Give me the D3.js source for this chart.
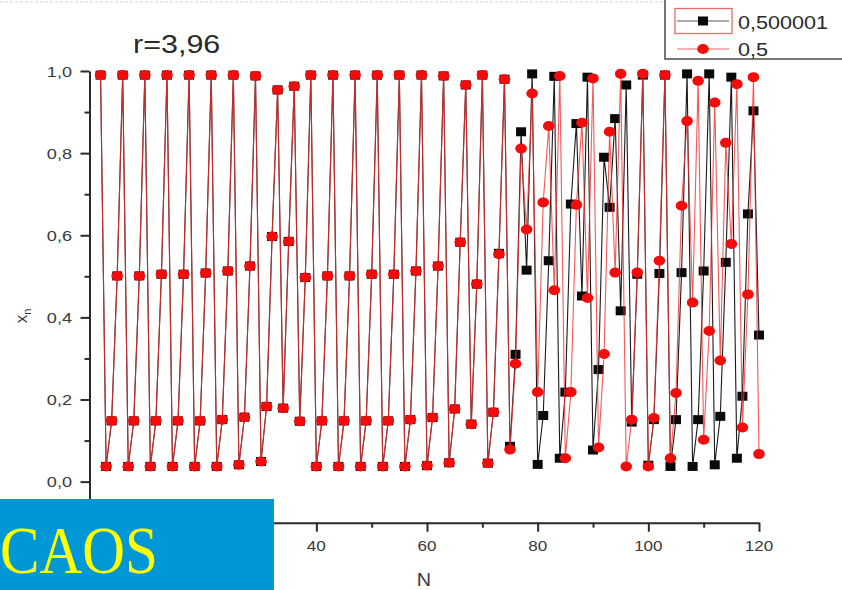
<!DOCTYPE html>
<html>
<head>
<meta charset="utf-8">
<script src="https://cdn.jsdelivr.net/npm/d3@7"></script>
<style>
  body { margin: 0; background: #fff; }
  svg { display: block; }
</style>
</head>
<body>
<svg id="chart" width="842" height="590"></svg>
<script>
// Logistic map iterates x_n for r = 3,96, two starting values
const title = "r=3,96";
const seriesNames = ["0,500001", "0,5"];
const xTickValues = [0, 20, 40, 60, 80, 100, 120];
const xMinorTicks = [10, 30, 50, 70, 90, 110];
const xLabelledTicks = [40, 60, 80, 100, 120];   // 0 and 20 sit under the caption block
const yTickValues = [0, 0.2, 0.4, 0.6, 0.8, 1.0];
const yMinorTicks = [0.1, 0.3, 0.5, 0.7, 0.9];
const yTickLabels = ["0,0", "0,2", "0,4", "0,6", "0,8", "1,0"];

// N = 1 .. 120
const steps = d3.range(1, 121);

// x0 = 0,5
const xn_0_5 = [
  0.990, 0.037, 0.148, 0.501, 0.990, 0.037, 0.148, 0.501, 0.990, 0.037,
  0.148, 0.505, 0.990, 0.037, 0.148, 0.505, 0.990, 0.037, 0.148, 0.508,
  0.990, 0.037, 0.151, 0.513, 0.990, 0.041, 0.157, 0.525, 0.988, 0.049,
  0.183, 0.597, 0.954, 0.179, 0.585, 0.963, 0.147, 0.497, 0.990, 0.037,
  0.148, 0.501, 0.990, 0.037, 0.148, 0.501, 0.990, 0.037, 0.148, 0.505,
  0.990, 0.037, 0.148, 0.505, 0.990, 0.037, 0.151, 0.513, 0.990, 0.039,
  0.156, 0.525, 0.988, 0.046, 0.177, 0.583, 0.966, 0.140, 0.481, 0.990,
  0.045, 0.169, 0.554, 0.980, 0.078, 0.287, 0.811, 0.614, 0.945, 0.218,
  0.680, 0.866, 0.466, 0.988, 0.057, 0.218, 0.674, 0.874, 0.447, 0.982,
  0.083, 0.311, 0.852, 0.509, 0.993, 0.037, 0.151, 0.509, 0.993, 0.037,
  0.155, 0.538, 0.990, 0.057, 0.216, 0.672, 0.878, 0.436, 0.976, 0.102,
  0.367, 0.923, 0.295, 0.825, 0.579, 0.968, 0.132, 0.456, 0.985, 0.067
];

// x0 = 0,500001
const xn_0_500001 = [
  0.990, 0.037, 0.148, 0.501, 0.990, 0.037, 0.148, 0.501, 0.990, 0.037,
  0.148, 0.505, 0.990, 0.037, 0.148, 0.505, 0.990, 0.037, 0.148, 0.508,
  0.990, 0.037, 0.151, 0.513, 0.990, 0.041, 0.157, 0.525, 0.988, 0.049,
  0.183, 0.597, 0.954, 0.179, 0.585, 0.963, 0.147, 0.497, 0.990, 0.037,
  0.148, 0.501, 0.990, 0.037, 0.148, 0.501, 0.990, 0.037, 0.148, 0.505,
  0.990, 0.037, 0.148, 0.505, 0.990, 0.037, 0.151, 0.513, 0.990, 0.039,
  0.156, 0.525, 0.988, 0.046, 0.177, 0.583, 0.966, 0.140, 0.481, 0.990,
  0.045, 0.169, 0.556, 0.980, 0.086, 0.310, 0.852, 0.515, 0.993, 0.042,
  0.161, 0.538, 0.987, 0.057, 0.218, 0.676, 0.872, 0.452, 0.985, 0.077,
  0.273, 0.790, 0.668, 0.884, 0.416, 0.966, 0.145, 0.505, 0.990, 0.040,
  0.151, 0.507, 0.990, 0.037, 0.151, 0.509, 0.993, 0.037, 0.151, 0.513,
  0.993, 0.041, 0.159, 0.534, 0.985, 0.057, 0.208, 0.652, 0.903, 0.357
];

const svg = d3.select("#chart");
const FONT = "'Liberation Sans', Arial, sans-serif";
const STRETCH = 1.17;   // text in this figure is drawn slightly wide

const x = d3.scaleLinear().domain([-1, 120]).range([89.5, 759]);
const y = d3.scaleLinear().domain([-0.1, 1.0]).range([522.7, 71]);

// faint rule along the top edge
svg.append("line")
  .attr("x1", 0).attr("x2", 842).attr("y1", 2).attr("y2", 2)
  .attr("stroke", "#e2e2e2").attr("stroke-width", 1.5)
  .attr("stroke-dasharray", "3,2");

function wideText(g, tx, ty, txt, size, anchor, sx, color) {
  return g.append("text")
    .attr("transform", `translate(${tx},${ty}) scale(${sx},1)`)
    .attr("text-anchor", anchor)
    .attr("font-family", FONT)
    .attr("font-size", size)
    .attr("fill", color || "#3a3a3a")
    .text(txt);
}

// ---- axes ----
const axisColor = "#2b2b2b";
const gy = svg.append("g").attr("transform", `translate(${x.range()[0]},0)`);
gy.call(d3.axisLeft(y).tickValues(yTickValues).tickSize(9).tickSizeOuter(0).tickFormat(""));
gy.append("g").call(d3.axisLeft(y).tickValues(yMinorTicks).tickSize(5).tickSizeOuter(0).tickFormat(""))
  .select(".domain").remove();
gy.selectAll("path, line").attr("stroke", axisColor).attr("stroke-width", 2);

const gx = svg.append("g").attr("transform", `translate(0,${y.range()[0]})`);
gx.call(d3.axisBottom(x).tickValues(xTickValues).tickSize(9).tickSizeOuter(0).tickFormat(""));
gx.append("g").call(d3.axisBottom(x).tickValues(xMinorTicks).tickSize(5).tickSizeOuter(0).tickFormat(""))
  .select(".domain").remove();
gx.selectAll("path, line").attr("stroke", axisColor).attr("stroke-width", 2);

// tick labels
yTickValues.forEach((v, i) => {
  wideText(svg, 72, y(v) + 5.5, yTickLabels[i], 15.5, "end", STRETCH);
});
xLabelledTicks.forEach(v => {
  wideText(svg, x(v), 551, String(v), 15.5, "middle", 1.1);
});

// axis titles
wideText(svg, x(60) - 3, 586, "N", 18, "middle", 1.1);
const yl = svg.append("text")
  .attr("transform", "translate(27,316) rotate(-90)")
  .attr("text-anchor", "middle")
  .attr("font-family", FONT)
  .attr("font-size", 17)
  .attr("fill", "#3a3a3a");
yl.append("tspan").text("x");
yl.append("tspan").attr("font-size", 11).attr("dy", 4).text("n");

// chart title
wideText(svg, 133, 53, title, 25, "start", 1.22, "#2a2a2a");

// ---- series ----
const dataBlack = steps.map((n, i) => ({ n, v: xn_0_500001[i] }));
const dataRed = steps.map((n, i) => ({ n, v: xn_0_5[i] }));
const line = d3.line().x(d => x(d.n)).y(d => y(d.v));

svg.append("path").datum(dataBlack)
  .attr("d", line).attr("fill", "none")
  .attr("stroke", "#1a1a1a").attr("stroke-width", 1.1);
svg.append("g").selectAll("rect").data(dataBlack).join("rect")
  .attr("x", d => x(d.n) - 5).attr("y", d => y(d.v) - 4.5)
  .attr("width", 10).attr("height", 9)
  .attr("fill", "#0a0a0a");

svg.append("path").datum(dataRed)
  .attr("d", line).attr("fill", "none")
  .attr("stroke", "#f03030").attr("stroke-width", 1.1).attr("stroke-opacity", 0.8);
svg.append("g").selectAll("ellipse").data(dataRed).join("ellipse")
  .attr("cx", d => x(d.n)).attr("cy", d => y(d.v))
  .attr("rx", 5.8).attr("ry", 5)
  .attr("fill", "#f20c0c");

// ---- legend ----
const lg = svg.append("g");
lg.append("rect")
  .attr("x", 665).attr("y", -4).attr("width", 200).attr("height", 63)
  .attr("fill", "#fff").attr("stroke", "#4a4a4a").attr("stroke-width", 1.5);
lg.append("rect")
  .attr("x", 675).attr("y", 8.5).attr("width", 57).attr("height", 25)
  .attr("fill", "none").attr("stroke", "#ec6a6a").attr("stroke-width", 1.3);
lg.append("line").attr("x1", 677).attr("x2", 729).attr("y1", 21).attr("y2", 21)
  .attr("stroke", "#555").attr("stroke-width", 1.2);
lg.append("rect").attr("x", 698).attr("y", 16.5).attr("width", 10).attr("height", 9).attr("fill", "#0a0a0a");
lg.append("line").attr("x1", 677).attr("x2", 729).attr("y1", 49).attr("y2", 49)
  .attr("stroke", "#f06060").attr("stroke-width", 1.2);
lg.append("ellipse").attr("cx", 703).attr("cy", 49).attr("rx", 5.8).attr("ry", 5).attr("fill", "#f20c0c");
wideText(lg, 738, 28.5, seriesNames[0], 18, "start", 1.2, "#2a2a2a");
wideText(lg, 738, 55.5, seriesNames[1], 18, "start", 1.2, "#2a2a2a");

// ---- slide caption block ----
svg.append("rect")
  .attr("x", 0).attr("y", 499).attr("width", 274).attr("height", 91)
  .attr("fill", "#0097d6");
svg.append("text")
  .attr("transform", "translate(0,573) scale(0.87,1)")
  .attr("font-family", "'Liberation Serif', 'Times New Roman', serif")
  .attr("font-size", 68)
  .attr("fill", "#ffff00")
  .text("CAOS");
</script>
</body>
</html>
